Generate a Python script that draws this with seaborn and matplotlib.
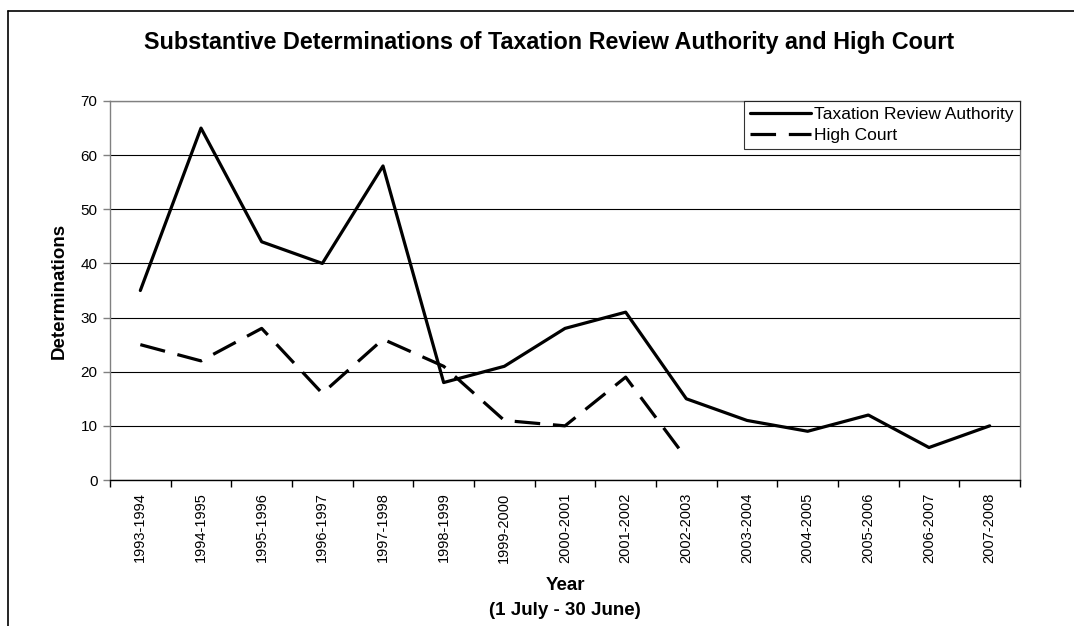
import matplotlib
matplotlib.use("Agg")
import matplotlib.pyplot as plt
from matplotlib.lines import Line2D
import numpy as np
import pandas as pd
import seaborn as sns

years = ['1993-1994', '1994-1995', '1995-1996', '1996-1997', '1997-1998',
         '1998-1999', '1999-2000', '2000-2001', '2001-2002', '2002-2003',
         '2003-2004', '2004-2005', '2005-2006', '2006-2007', '2007-2008']
tra = [35, 65, 44, 40, 58, 18, 21, 28, 31, 15, 11, 9, 12, 6, 10]
high_court = [25, 22, 28, 16, 26, 21, 11, 10, 19, 4]

rows = []
for y, v in zip(years, tra):
    rows.append({'Year': y, 'Determinations': v, 'Series': 'Taxation Review Authority'})
for y, v in zip(years, high_court):
    rows.append({'Year': y, 'Determinations': v, 'Series': 'High Court'})
df = pd.DataFrame(rows)

sns.set_style('white')
plt.rcParams['font.family'] = ['Liberation Sans', 'DejaVu Sans']
plt.rcParams['text.color'] = 'black'
plt.rcParams['axes.labelcolor'] = 'black'
plt.rcParams['xtick.color'] = 'black'
plt.rcParams['ytick.color'] = 'black'

fig = plt.figure(figsize=(10.74, 6.26), dpi=100)
ax = fig.add_axes([110 / 1074, 1 - 480 / 626, 910 / 1074, 379 / 626])

# draw the gridlines first so the lines sit on top
ax.set_axisbelow(True)
ax.yaxis.grid(True, color='black', linewidth=0.8)
ax.xaxis.grid(False)

sns.lineplot(data=df, x='Year', y='Determinations', style='Series',
             hue='Series', palette={'Taxation Review Authority': 'black', 'High Court': 'black'},
             dashes={'Taxation Review Authority': '', 'High Court': (8, 4)},
             linewidth=2.3, sort=False, ax=ax, legend=True)

ax.set_xlim(-0.5, len(years) - 0.5)
ax.set_ylim(0, 70)
ax.set_yticks(np.arange(0, 71, 10))
ax.set_xticks(np.arange(len(years)))
ax.set_xticklabels(years, rotation=90, fontsize=10.5)
ax.tick_params(axis='x', length=0, pad=9)
# ticks between categories
ax.set_xticks(np.arange(-0.5, len(years)), minor=True)
ax.tick_params(axis='x', which='minor', length=5, width=1, color='black', direction='out', bottom=True)
ax.tick_params(axis='y', length=5, width=1, color='#808080', direction='out', left=True,
               labelsize=11, pad=4)

for side in ['left', 'top', 'right']:
    ax.spines[side].set_color('#808080')
    ax.spines[side].set_linewidth(1)
ax.spines['bottom'].set_color('black')
ax.spines['bottom'].set_linewidth(1)

ax.set_xlabel('Year\n(1 July - 30 June)', fontsize=13.5, fontweight='bold', linespacing=1.65)
ax.xaxis.set_label_coords(0.5, -0.256)
ax.xaxis.label.set_va('top')
ax.set_ylabel('Determinations', fontsize=13.5, fontweight='bold')
ax.yaxis.set_label_coords(-0.056, 0.5)
ax.yaxis.label.set_va('center')

leg = ax.legend(loc='upper right', bbox_to_anchor=(1.0, 1.0), fontsize=12.5,
                frameon=True, fancybox=False, handlelength=3.5, handletextpad=0.2,
                borderpad=0.35, labelspacing=0.3, borderaxespad=0)
leg.get_frame().set_edgecolor('black')
leg.get_frame().set_linewidth(0.8)

fig.text(549 / 1074, 1 - 43 / 626,
         'Substantive Determinations of Taxation Review Authority and High Court',
         ha='center', va='center', fontsize=16.8, fontweight='bold')

# chart area frame (left and top edges visible)
fig.add_artist(Line2D([8 / 1074, 8 / 1074], [0, 1 - 11 / 626], color='black', linewidth=1.2))
fig.add_artist(Line2D([8 / 1074, 1], [1 - 11 / 626, 1 - 11 / 626], color='black', linewidth=1.2))

fig.savefig('out.png', dpi=100)
